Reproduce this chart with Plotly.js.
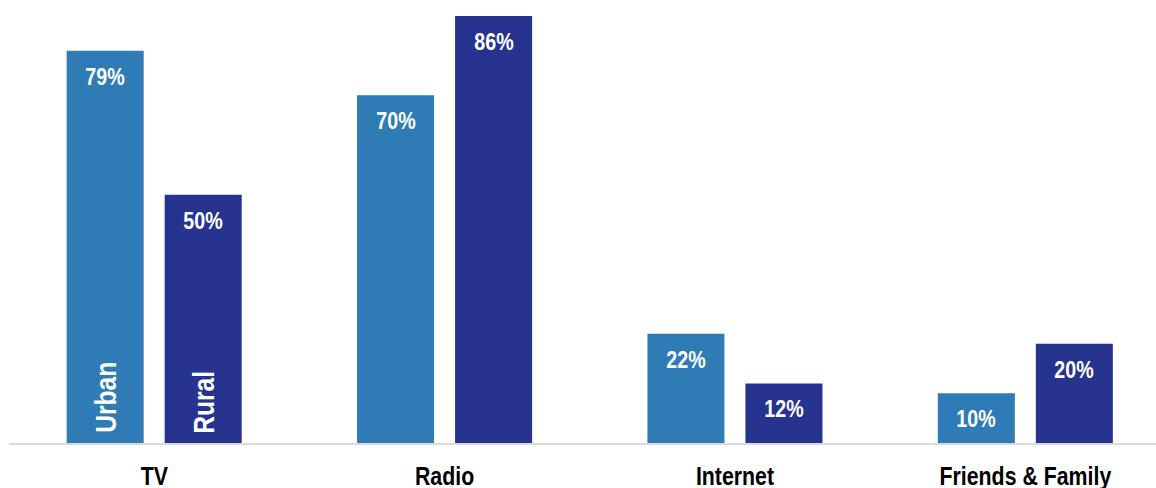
<!DOCTYPE html>
<html>
<head>
<meta charset="utf-8">
<script src="https://cdn.plot.ly/plotly-3.0.1.min.js"></script>
<style>
html,body{margin:0;padding:0;background:#fff;}
#chart{width:1156px;height:488px;}
</style>
</head>
<body>
<div id="chart"></div>
<script>
const categories = ["TV", "Radio", "Internet", "Friends & Family"];
const seriesNames = ["Urban", "Rural"];
const urbanValues = [79, 70, 22, 10];
const ruralValues = [50, 86, 12, 20];

const FONT = '"Liberation Sans Narrow", "Arial Narrow", "Liberation Sans", Arial, sans-serif';
const colors = ["#2E7BB6", "#26338F"];
const BARGAP = 0.325;
const slot = (1 - BARGAP) / 2;
const CONDENSE = 0.82;

const traces = [urbanValues, ruralValues].map((vals, k) => ({
  type: "bar",
  name: seriesNames[k],
  x: categories,
  y: vals,
  marker: {color: colors[k]},
  hoverinfo: "skip"
}));

const annotations = [];
[urbanValues, ruralValues].forEach((vals, k) => {
  const off = (k === 0 ? -1 : 1) * slot / 2;
  vals.forEach((v, i) => {
    annotations.push({
      x: i + off, y: v, xref: "x", yref: "y",
      text: v + "%", showarrow: false,
      yanchor: "top", yshift: -10,
      font: {family: FONT, size: 24, color: "#ffffff", weight: "bold"}
    });
  });
  annotations.push({
    x: off, y: 0, xref: "x", yref: "y",
    text: seriesNames[k], showarrow: false, textangle: -90,
    yanchor: "bottom", yshift: 0,
    font: {family: FONT, size: 30, color: "#ffffff", weight: "bold"}
  });
});

const layout = {
  width: 1156, height: 488,
  margin: {l: 9, r: 0, t: 0, b: 45},
  paper_bgcolor: "#ffffff", plot_bgcolor: "#ffffff",
  barmode: "group", bargap: BARGAP, bargroupgap: 0.214,
  showlegend: false,
  xaxis: {
    type: "category", range: [-0.5, 3.45], automargin: false,
    showline: true, linecolor: "#d9d9d9", linewidth: 2,
    ticks: "outside", ticklen: 9, tickcolor: "rgba(0,0,0,0)",
    tickfont: {family: FONT, size: 26, color: "#000000", weight: "bold"},
    showgrid: false, zeroline: false, fixedrange: true
  },
  yaxis: {
    range: [0, 89.2], showgrid: false, zeroline: false,
    showticklabels: false, showline: false, fixedrange: true
  },
  annotations: annotations
};

function condenseTexts(gd) {
  const nodes = gd.querySelectorAll(".xtick text, .annotation-text");
  nodes.forEach(el => {
    if (el.getAttribute("data-condensed")) return;
    const bb = el.getBBox();
    const cx = bb.x + bb.width / 2;
    const prev = el.getAttribute("transform") || "";
    el.setAttribute("transform",
      prev + " translate(" + cx + ",0) scale(" + CONDENSE + ",1) translate(" + (-cx) + ",0)");
    el.setAttribute("data-condensed", "1");
  });
}

Plotly.newPlot("chart", traces, layout, {displayModeBar: false, staticPlot: true})
  .then(gd => condenseTexts(gd));
</script>
</body>
</html>
